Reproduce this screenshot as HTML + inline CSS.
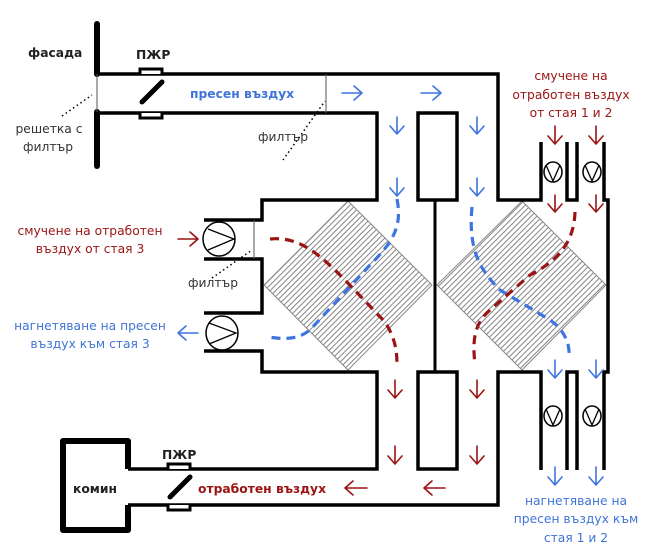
<!DOCTYPE html>
<html><head><meta charset="utf-8"><style>
html,body{margin:0;padding:0;background:#fff;}
svg{display:block;}
text{font-family:"DejaVu Sans","Liberation Sans",sans-serif;font-size:12.3px;}
.b{font-weight:bold;}
.r{fill:#9b1414;}
.u{fill:#3f74d6;}
.k{fill:#222;}
</style></head><body>
<svg width="650" height="560" viewBox="0 0 650 560" xmlns="http://www.w3.org/2000/svg">
<defs>
<pattern id="h" patternUnits="userSpaceOnUse" width="4" height="4" patternTransform="rotate(45)">
<line x1="0.5" y1="0" x2="0.5" y2="4" stroke="#777" stroke-width="0.9"/>
</pattern>
</defs>
<!-- heat exchangers -->
<polygon points="348,201 432,285 348,370 264,285" fill="url(#h)" stroke="#888" stroke-width="1"/>
<polygon points="522,201 606,285 522,370 437,285" fill="url(#h)" stroke="#888" stroke-width="1"/>

<g fill="none" stroke="#000" stroke-width="3.5" stroke-linejoin="miter">
<polyline points="98,74 498,74 498,200 541,200 541,142"/>
<polyline points="98,113 377,113 377,200 262,200 262,220 204,220"/>
<rect x="418" y="113" width="39" height="87"/>
<polyline points="567,142 567,200 577,200 577,142"/>
<polyline points="604,142 604,200 608,200 608,372 604,372 604,470"/>
<polyline points="204,259 262,259 262,313 204,313"/>
<polyline points="204,351 262,351 262,372 377,372 377,469 128,469"/>
<rect x="418" y="372" width="39" height="97"/>
<polyline points="128,505 498,505 498,372 541,372 541,470"/>
<polyline points="567,470 567,372 577,372 577,470"/>
</g>
<line x1="435" y1="200" x2="435" y2="372" stroke="#000" stroke-width="3"/>
<g stroke="#000" stroke-width="6" stroke-linecap="round">
<line x1="97" y1="24" x2="97" y2="74"/>
<line x1="97" y1="112" x2="97" y2="166"/>
</g>
<line x1="97" y1="74" x2="97" y2="112" stroke="#555" stroke-width="1"/>
<line x1="326" y1="74" x2="326" y2="113" stroke="#555" stroke-width="1"/>
<line x1="254" y1="220" x2="254" y2="259" stroke="#555" stroke-width="1"/>
<g stroke="#000" stroke-width="1.5" stroke-dasharray="1.5,3">
<line x1="62" y1="116" x2="92" y2="95"/>
<line x1="283" y1="160" x2="325" y2="101"/>
<line x1="212" y1="278" x2="252" y2="250"/>
</g>
<g fill="#fff" stroke="#000" stroke-width="3">
<polyline points="140,74 140,69 162,69 162,74"/>
<polyline points="140,113 140,118 162,118 162,113"/>
<polyline points="168,469 168,464 190,464 190,469"/>
<polyline points="168,505 168,510 190,510 190,505"/>
</g>
<g stroke="#000" stroke-width="5" stroke-linecap="round">
<line x1="142" y1="102" x2="162" y2="82"/>
<line x1="170" y1="497" x2="190" y2="477"/>
</g>
<path d="M128,469 L128,441 L63,441 L63,530 L128,530 L128,505" fill="none" stroke="#000" stroke-width="6" stroke-linejoin="round"/>
<g fill="#fff" stroke="#000" stroke-width="1.5">
<ellipse cx="219" cy="239" rx="16" ry="17"/>
<ellipse cx="222" cy="333" rx="16" ry="17"/>
<ellipse cx="553" cy="172" rx="9" ry="10"/>
<ellipse cx="592" cy="172" rx="9" ry="10"/>
<ellipse cx="553" cy="416" rx="9" ry="10"/>
<ellipse cx="592" cy="416" rx="9" ry="10"/>
</g>
<g fill="none" stroke="#000" stroke-width="1.3">
<polyline points="208,229 234,239 208,250"/>
<polyline points="209,323 236,333 209,344"/>
<polyline points="546,165 553,181 560,165"/>
<polyline points="585,165 592,181 599,165"/>
<polyline points="546,409 553,425 560,409"/>
<polyline points="585,409 592,425 599,409"/>
</g>
<g fill="none" stroke-width="3.2" stroke-dasharray="9,6">
<path d="M397,199 C402,225 395,240 370,265 L310,330 C295,342 278,338 267,337" stroke="#3d74e0"/>
<path d="M270,239 C300,236 320,255 345,280 L385,322 C395,338 397,350 397,365" stroke="#9b1414"/>
<path d="M472,207 C468,250 480,270 500,290 L550,320 C565,330 570,345 569,356" stroke="#3d74e0"/>
<path d="M575,212 C574,245 555,262 530,275 L490,310 C472,325 473,345 475,365" stroke="#9b1414"/>
</g>
<g fill="none" stroke-width="1.6" stroke-linecap="round" stroke-linejoin="round">
<g stroke="#3d74e0">
<path d="M342,93 H362 M354,86 L362,93 L354,100"/>
<path d="M421,93 H441 M433,86 L441,93 L433,100"/>
<path d="M397,117 V134 M390,126 L397,134 L404,126"/>
<path d="M397,178 V196 M390,188 L397,196 L404,188"/>
<path d="M477,117 V134 M470,126 L477,134 L484,126"/>
<path d="M477,178 V196 M470,188 L477,196 L484,188"/>
<path d="M178,333 H198 M186,326 L178,333 L186,340"/>
<path d="M555,360 V378 M548,370 L555,378 L562,370"/>
<path d="M596,360 V378 M589,370 L596,378 L603,370"/>
<path d="M555,467 V485 M548,477 L555,485 L562,477"/>
<path d="M596,467 V485 M589,477 L596,485 L603,477"/>
</g>
<g stroke="#9b1414">
<path d="M178,239 H198 M190,232 L198,239 L190,246"/>
<path d="M345,488 H367 M353,481 L345,488 L353,495"/>
<path d="M424,488 H445 M432,481 L424,488 L432,495"/>
<path d="M395,380 V398 M388,390 L395,398 L402,390"/>
<path d="M395,446 V464 M388,456 L395,464 L402,456"/>
<path d="M477,380 V398 M470,390 L477,398 L484,390"/>
<path d="M477,446 V464 M470,456 L477,464 L484,456"/>
<path d="M555,126 V144 M548,136 L555,144 L562,136"/>
<path d="M596,126 V144 M589,136 L596,144 L603,136"/>
<path d="M555,195 V212 M548,204 L555,212 L562,204"/>
<path d="M596,195 V212 M589,204 L596,212 L603,204"/>
</g>
</g>
<text x="28" y="57" class="b k" font-size="13">фасада</text>
<text x="136" y="59" class="b k" font-size="13">ПЖР</text>
<text x="162" y="459" class="b k" font-size="13">ПЖР</text>
<text x="73" y="493" class="b k" font-size="12">комин</text>
<text x="190" y="98" class="b u" font-size="12.5">пресен въздух</text>
<text x="198" y="493" class="b r" font-size="12.5">отработен въздух</text>
<text x="49" y="133" text-anchor="middle" fill="#333">решетка с</text>
<text x="48" y="151" text-anchor="middle" fill="#333">филтър</text>
<text x="258" y="141" fill="#333">филтър</text>
<text x="188" y="287" fill="#333">филтър</text>
<text x="90" y="235" class="r" text-anchor="middle">смучене на отработен</text>
<text x="90" y="253" class="r" text-anchor="middle">въздух от стая 3</text>
<text x="90" y="330" class="u" text-anchor="middle">нагнетяване на пресен</text>
<text x="90" y="348" class="u" text-anchor="middle">въздух към стая 3</text>
<text x="571" y="80" class="r" text-anchor="middle">смучене на</text>
<text x="571" y="99" class="r" text-anchor="middle">отработен въздух</text>
<text x="571" y="117" class="r" text-anchor="middle">от стая 1 и 2</text>
<text x="576" y="505" class="u" text-anchor="middle">нагнетяване на</text>
<text x="576" y="523" class="u" text-anchor="middle">пресен въздух към</text>
<text x="576" y="542" class="u" text-anchor="middle">стая 1 и 2</text>
</svg>
</body></html>
